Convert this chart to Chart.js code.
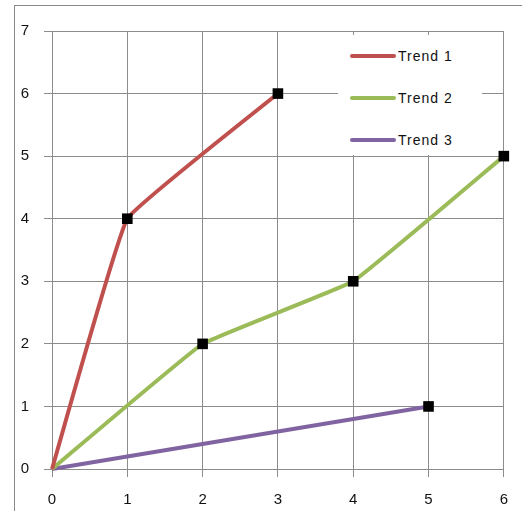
<!DOCTYPE html>
<html>
<head>
<meta charset="utf-8">
<script src="https://cdn.jsdelivr.net/npm/chart.js@4"></script>
<style>
  html, body { margin: 0; padding: 0; background: #fff; }
  #wrap { position: relative; width: 522px; height: 511px; overflow: hidden; }
  #frame { position: absolute; left: 14px; top: 5px; width: 520px; height: 520px;
           border-top: 1px solid #8a8a8a; border-left: 1px solid #8a8a8a; }
  #legend { position: absolute; left: 338px; top: 35px; width: 144px; height: 120px;
            background: #fff; font-family: "Liberation Sans", sans-serif; font-size: 14px;
            letter-spacing: 1px; color: #111; }
  .item { position: absolute; left: 12px; height: 16px; display: flex; align-items: center; }
  .swatch { width: 46px; height: 4px; border-radius: 2px; margin-right: 2px; }
</style>
</head>
<body>
<div id="wrap">
  <canvas id="grafico" width="522" height="511"></canvas>
  <div id="frame"></div>
  <div id="legend"></div>
</div>
<script>
// dados
const nomes = ['Trend 1', 'Trend 2', 'Trend 3'];
const trend1 = [{x: 0, y: 0}, {x: 1, y: 4}, {x: 3, y: 6}];
const trend2 = [{x: 0, y: 0}, {x: 2, y: 2}, {x: 4, y: 3}, {x: 6, y: 5}];
const trend3 = [{x: 0, y: 0}, {x: 5, y: 1}];
const ticksX = [0, 1, 2, 3, 4, 5, 6];
const ticksY = [0, 1, 2, 3, 4, 5, 6, 7];

const cores = ['#c0504d', '#9bbb59', '#8064a2'];
const gridCor = '#8c8c8c';
const fonte = { family: '"Liberation Sans", sans-serif', size: 15 };

const series = [trend1, trend2, trend3].map((d, i) => ({
  label: nomes[i],
  data: d,
  borderColor: cores[i],
  borderWidth: 4,
  tension: 0.08,
  clip: false,
  pointStyle: 'rect',
  pointRadius: ctx => ctx.dataIndex === 0 ? 0 : 7.5,
  pointHoverRadius: ctx => ctx.dataIndex === 0 ? 0 : 7.5,
  pointBackgroundColor: '#000',
  pointBorderColor: '#000',
  pointBorderWidth: 0
}));

new Chart(document.getElementById('grafico'), {
  type: 'line',
  data: { datasets: series },
  options: {
    responsive: false,
    animation: false,
    layout: { padding: { left: 14, top: 31, right: 18, bottom: 0 } },
    plugins: { legend: { display: false }, tooltip: { enabled: false } },
    scales: {
      x: {
        type: 'linear',
        min: ticksX[0],
        max: ticksX[ticksX.length - 1],
        afterBuildTicks: s => { s.ticks = ticksX.map(v => ({ value: v })); },
        afterFit: s => { s.height = 42; },
        ticks: { color: '#111', font: fonte, padding: 14 },
        grid: { color: gridCor, tickLength: 8, tickColor: gridCor },
        border: { color: gridCor }
      },
      y: {
        type: 'linear',
        min: ticksY[0],
        max: ticksY[ticksY.length - 1],
        afterBuildTicks: s => { s.ticks = ticksY.map(v => ({ value: v })); },
        afterFit: s => { s.width = 38; },
        ticks: { color: '#111', font: fonte, padding: 15 },
        grid: { color: gridCor, tickLength: 8, tickColor: gridCor },
        border: { color: gridCor }
      }
    }
  }
});

// legenda em HTML por cima da área do gráfico
const legenda = document.getElementById('legend');
nomes.forEach((nome, i) => {
  const item = document.createElement('div');
  item.className = 'item';
  item.style.top = (13 + i * 42) + 'px';
  item.innerHTML = `<span class="swatch" style="background:${cores[i]}"></span><span>${nome}</span>`;
  legenda.appendChild(item);
});
</script>
</body>
</html>
